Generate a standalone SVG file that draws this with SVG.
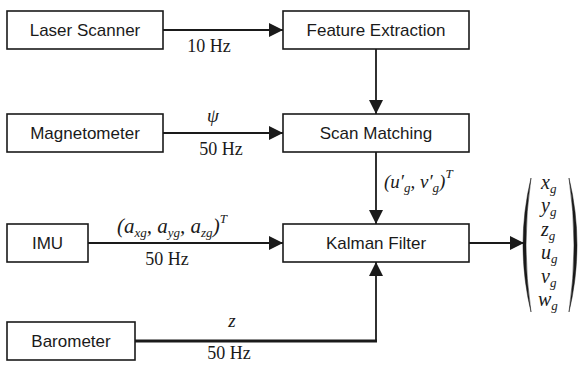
<svg xmlns="http://www.w3.org/2000/svg" width="580" height="365" viewBox="0 0 580 365">
<style>
.box{fill:#fff;stroke:#1a1a1a;stroke-width:1.6}
.lbl{font-family:"Liberation Sans","Open Sans",sans-serif;font-size:17px;fill:#1a1a1a;text-anchor:middle}
.hz{font-family:"Liberation Serif","DejaVu Serif",serif;font-size:18px;fill:#1a1a1a;text-anchor:middle}
.m{font-family:"Liberation Serif","DejaVu Serif",serif;font-style:italic;font-size:19px;fill:#1a1a1a}
.v{font-size:20px}
.sub{font-size:13px}
.ln{fill:none;stroke:#1a1a1a;stroke-width:1.8}
</style>
<defs>
<marker id="ah" markerWidth="14" markerHeight="14" viewBox="0 0 14 14" refX="14" refY="7" orient="auto" markerUnits="userSpaceOnUse">
<path d="M0,0 L14,7 L0,14 Z" fill="#1a1a1a"/>
</marker>
</defs>
<rect width="580" height="365" fill="#fff"/>

<g id="connectors">
<line class="ln" x1="163" y1="30" x2="283" y2="30" marker-end="url(#ah)"/>
<line class="ln" x1="376" y1="49" x2="376" y2="114" marker-end="url(#ah)"/>
<line class="ln" x1="163" y1="133" x2="283" y2="133" marker-end="url(#ah)"/>
<line class="ln" x1="376" y1="152" x2="376" y2="224" marker-end="url(#ah)"/>
<line class="ln" x1="88" y1="243" x2="283" y2="243" marker-end="url(#ah)"/>
<line class="ln" x1="135" y1="341" x2="377" y2="341" style="stroke-width:3"/>
<line class="ln" x1="376" y1="342" x2="376" y2="262" marker-end="url(#ah)"/>
<line class="ln" x1="469" y1="243" x2="524" y2="243" marker-end="url(#ah)"/>

<text class="hz" x="209" y="52">10 Hz</text>
<text class="m" x="213" y="122" text-anchor="middle">ψ</text>
<text class="hz" x="221" y="155">50 Hz</text>
<text class="m" x="117" y="233" style="font-size:21px">(a<tspan class="sub" dy="4">xg</tspan><tspan dy="-4">, a</tspan><tspan class="sub" dy="4">yg</tspan><tspan dy="-4">, a</tspan><tspan class="sub" dy="4">zg</tspan><tspan dy="-4">)</tspan><tspan class="sub" dy="-10">T</tspan></text>
<text class="hz" x="167" y="265">50 Hz</text>
<text class="m" x="384" y="188">(u′<tspan class="sub" dy="4">g</tspan><tspan dy="-4">, v′</tspan><tspan class="sub" dy="4">g</tspan><tspan dy="-4">)</tspan><tspan class="sub" dy="-10">T</tspan></text>
<text class="m" x="232" y="327" text-anchor="middle">z</text>
<text class="hz" x="229" y="359">50 Hz</text>
</g>

<g id="laser-scanner"><rect class="box" x="7" y="11" width="156" height="38"/><text class="lbl" x="85" y="36">Laser Scanner</text></g>
<g id="feature-extraction"><rect class="box" x="283" y="11" width="186" height="38"/><text class="lbl" x="376" y="36">Feature Extraction</text></g>
<g id="magnetometer"><rect class="box" x="7" y="114" width="156" height="38"/><text class="lbl" x="85" y="139">Magnetometer</text></g>
<g id="scan-matching"><rect class="box" x="283" y="114" width="186" height="38"/><text class="lbl" x="376" y="139">Scan Matching</text></g>
<g id="imu"><rect class="box" x="7" y="224" width="81" height="38"/><text class="lbl" x="47.5" y="249">IMU</text></g>
<g id="kalman-filter"><rect class="box" x="283" y="224" width="186" height="38"/><text class="lbl" x="376" y="249">Kalman Filter</text></g>
<g id="barometer"><rect class="box" x="7" y="322" width="128" height="38"/><text class="lbl" x="71" y="347">Barometer</text></g>

<g id="state-vector">
<path d="M531,178 Q515,245 531,312 Q521,245 531,178 Z" fill="#1a1a1a" stroke="#1a1a1a" stroke-width="0.5"/>
<path d="M569,178 Q585,245 569,312 Q579,245 569,178 Z" fill="#1a1a1a" stroke="#1a1a1a" stroke-width="0.5"/>
<text class="m v" x="541" y="189">x<tspan class="sub" dy="4">g</tspan></text>
<text class="m v" x="541" y="212">y<tspan class="sub" dy="4">g</tspan></text>
<text class="m v" x="541" y="236">z<tspan class="sub" dy="4">g</tspan></text>
<text class="m v" x="541" y="259">u<tspan class="sub" dy="4">g</tspan></text>
<text class="m v" x="541" y="283">v<tspan class="sub" dy="4">g</tspan></text>
<text class="m v" x="538" y="306">w<tspan class="sub" dy="4">g</tspan></text>
</g>
</svg>
